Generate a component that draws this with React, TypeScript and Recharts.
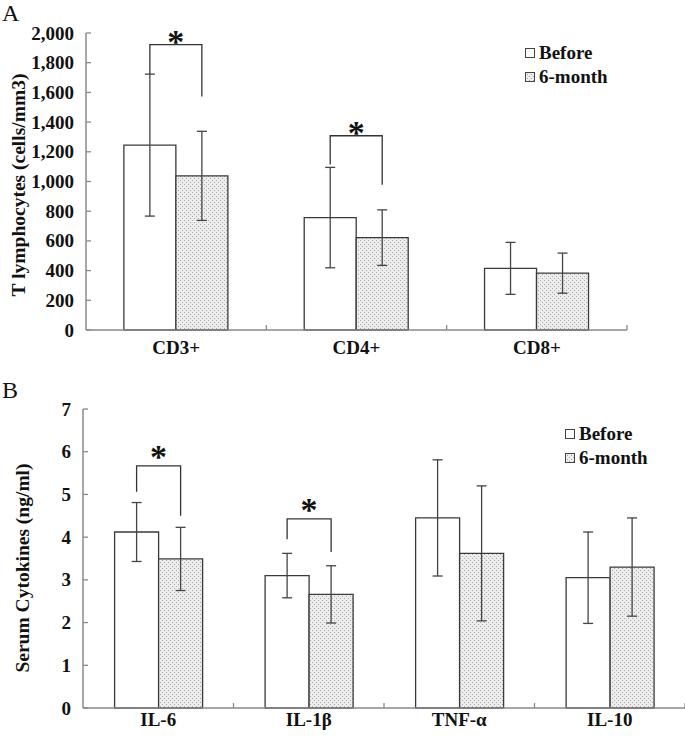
import React from 'react';
import { BarChart, Bar, XAxis, YAxis, ErrorBar, LabelList, Legend } from 'recharts';

// ---------- Panel A data ----------
const categoriesA = ['CD3+', 'CD4+', 'CD8+'];
const beforeA = [1245, 757, 415];
const beforeErrA = [478, 338, 175];
const monthA = [1038, 622, 383];
const monthErrA = [300, 187, 135];
const yTicksA = [0, 200, 400, 600, 800, 1000, 1200, 1400, 1600, 1800, 2000];
const sigCatsA = ['CD3+', 'CD4+'];
const sigTopA = [1922, 1308];
const sigLeftEndA = [1724, 1115];
const sigRightEndA = [1573, 978];

// ---------- Panel B data ----------
const categoriesB = ['IL-6', 'IL-1β', 'TNF-α', 'IL-10'];
const beforeB = [4.12, 3.1, 4.45, 3.05];
const beforeErrB = [0.69, 0.52, 1.36, 1.07];
const monthB = [3.49, 2.66, 3.62, 3.3];
const monthErrB = [0.74, 0.67, 1.58, 1.15];
const yTicksB = [0, 1, 2, 3, 4, 5, 6, 7];
const sigCatsB = ['IL-6', 'IL-1β'];
const sigTopB = [5.67, 4.43];
const sigLeftEndB = [5.06, 3.95];
const sigRightEndB = [4.5, 3.65];

const seriesNames = ['Before', '6-month'];

const FONT = '"Liberation Serif", "Times New Roman", serif';
const AXIS = '#8a8a8a';
const BAR_STROKE = '#3a3a3a';
const FS = 19;

const dataA = categoriesA.map((name, i) => ({
  name,
  before: beforeA[i],
  beforeErr: beforeErrA[i],
  month: monthA[i],
  monthErr: monthErrA[i],
}));

const dataB = categoriesB.map((name, i) => ({
  name,
  before: beforeB[i],
  beforeErr: beforeErrB[i],
  month: monthB[i],
  monthErr: monthErrB[i],
}));

const PatternDefs = ({ id }: { id: string }) => (
  <defs>
    <pattern id={id} width="4" height="4" patternUnits="userSpaceOnUse">
      <rect width="4" height="4" fill="#ededed" />
      <rect x="0" y="0" width="1" height="1" fill="#a8a8a8" />
      <rect x="2" y="2" width="1" height="1" fill="#a8a8a8" />
    </pattern>
  </defs>
);

const makeYTick = (fmt: (v: number) => string) => (props: any) => {
  const { x, y, payload } = props;
  return (
    <g>
      <line x1={x} x2={x + 5} y1={y} y2={y} stroke={AXIS} strokeWidth={1.3} />
      <text
        x={x - 12}
        y={y}
        textAnchor="end"
        dominantBaseline="central"
        fontFamily={FONT}
        fontWeight="bold"
        fontSize={FS}
        fill="#111"
      >
        {fmt(payload.value)}
      </text>
    </g>
  );
};

const makeXTick = (dy: number, n: number) => (props: any) => {
  const { x, y, payload, width } = props;
  const off = payload && payload.offset != null ? payload.offset : width / n / 2;
  return (
    <g>
      <line x1={x + off} x2={x + off} y1={y} y2={y - 5} stroke={AXIS} strokeWidth={1.3} />
      <text
        x={x}
        y={y + dy}
        textAnchor="middle"
        dominantBaseline="central"
        fontFamily={FONT}
        fontWeight="bold"
        fontSize={FS}
        fill="#111"
      >
        {payload.value}
      </text>
    </g>
  );
};

const makeBracket = (
  cats: string[],
  tops: number[],
  lefts: number[],
  rights: number[],
  values: number[],
  allCats: string[],
  starGap: number
) => (props: any) => {
  const vb = props.viewBox || props;
  const x = vb.x;
  const y = vb.y;
  const width = vb.width;
  const height = vb.height;
  const name = props.value;
  const si = cats.indexOf(name);
  if (si < 0) return null;
  const ci = allCats.indexOf(name);
  const val = values[ci];
  const base = y + height;
  const ppu = height / val;
  const py = (v: number) => base - v * ppu;
  const lx = x + width / 2;
  const rx = x + width * 1.5;
  const ty = py(tops[si]);
  const fs = 34;
  return (
    <g>
      <polyline
        points={`${lx},${py(lefts[si])} ${lx},${ty} ${rx},${ty} ${rx},${py(rights[si])}`}
        fill="none"
        stroke="#333"
        strokeWidth={1.3}
      />
      <text
        x={(lx + rx) / 2}
        y={ty - starGap + fs * 0.47}
        textAnchor="middle"
        fontFamily={FONT}
        fontWeight="bold"
        fontSize={fs}
        fill="#111"
      >
        *
      </text>
    </g>
  );
};

const makeLegend = (left: number, top: number, patternId: string) => () => (
  <div style={{ position: 'absolute', left, top, fontFamily: FONT, fontWeight: 'bold', fontSize: FS, color: '#111', lineHeight: '24px' }}>
    {seriesNames.map((s, i) => (
      <div key={s} style={{ display: 'flex', alignItems: 'center', height: 24, whiteSpace: 'nowrap' }}>
        <svg width={10} height={10} style={{ marginRight: 4 }}>
          <rect x={0.5} y={0.5} width={9} height={9} fill={i === 0 ? '#fff' : `url(#${patternId})`} stroke="#444" strokeWidth={1} />
        </svg>
        <span>{s}</span>
      </div>
    ))}
  </div>
);

const YTitle = ({ text, x, cy }: { text: string; x: number; cy: number }) => (
  <text
    x={x}
    y={cy}
    transform={`rotate(-90, ${x}, ${cy})`}
    textAnchor="middle"
    dominantBaseline="central"
    fontFamily={FONT}
    fontWeight="bold"
    fontSize={19.5}
    fill="#111"
  >
    {text}
  </text>
);

export default function App() {
  return (
    <div style={{ position: 'absolute', left: 0, top: 0, width: 685, height: 736, background: '#fff', overflow: 'hidden' }}>
      <div style={{ position: 'absolute', left: 2, top: 1, fontFamily: FONT, fontSize: 24, lineHeight: '24px', color: '#111' }}>A</div>
      <div style={{ position: 'absolute', left: 2, top: 378, fontFamily: FONT, fontSize: 24, lineHeight: '24px', color: '#111' }}>B</div>

      <div style={{ position: 'absolute', left: 0, top: 0 }}>
        <BarChart
          width={685}
          height={370}
          data={dataA}
          margin={{ top: 33, right: 58, bottom: 10, left: 26 }}
          barGap={0}
          barCategoryGap="21%"
        >
          <PatternDefs id="dotsA" />
          <XAxis
            dataKey="name"
            height={30}
            tickSize={0}
            tickMargin={0}
            axisLine={{ stroke: AXIS, strokeWidth: 1.5 }}
            tickLine={false}
            interval={0}
            tick={makeXTick(17, categoriesA.length)}
          />
          <YAxis
            width={60}
            domain={[0, 2000]}
            ticks={yTicksA}
            interval={0}
            tickSize={0}
            tickMargin={0}
            axisLine={{ stroke: AXIS, strokeWidth: 1.5 }}
            tickLine={false}
            tick={makeYTick((v) => v.toLocaleString('en-US'))}
            label={{ content: () => <YTitle text="T lymphocytes (cells/mm3)" x={18} cy={185} /> }}
          />
          <Legend layout="horizontal" verticalAlign="middle" align="center" content={makeLegend(525, 41, 'dotsA')} wrapperStyle={{ position: 'absolute', left: 0, top: 0, width: 0, height: 0 }} />
          <Bar dataKey="before" name={seriesNames[0]} fill="#fff" stroke={BAR_STROKE} strokeWidth={1.3} isAnimationActive={false}>
            <ErrorBar dataKey="beforeErr" width={5} stroke="#444" strokeWidth={1.3} />
            <LabelList
              dataKey="name"
              content={makeBracket(sigCatsA, sigTopA, sigLeftEndA, sigRightEndA, beforeA, categoriesA, 8)}
            />
          </Bar>
          <Bar dataKey="month" name={seriesNames[1]} fill="url(#dotsA)" stroke={BAR_STROKE} strokeWidth={1.3} isAnimationActive={false}>
            <ErrorBar dataKey="monthErr" width={5} stroke="#444" strokeWidth={1.3} />
          </Bar>
        </BarChart>
      </div>

      <div style={{ position: 'absolute', left: 0, top: 370 }}>
        <BarChart
          width={685}
          height={366}
          data={dataB}
          margin={{ top: 39, right: 0, bottom: 0, left: 23 }}
          barGap={0}
          barCategoryGap="21%"
        >
          <PatternDefs id="dotsB" />
          <XAxis
            dataKey="name"
            height={28}
            tickSize={0}
            tickMargin={0}
            axisLine={{ stroke: AXIS, strokeWidth: 1.5 }}
            tickLine={false}
            interval={0}
            tick={makeXTick(11, categoriesB.length)}
          />
          <YAxis
            width={60}
            domain={[0, 7]}
            ticks={yTicksB}
            interval={0}
            tickSize={0}
            tickMargin={0}
            axisLine={{ stroke: AXIS, strokeWidth: 1.5 }}
            tickLine={false}
            tick={makeYTick((v) => String(v))}
            label={{ content: () => <YTitle text="Serum Cytokines (ng/ml)" x={22} cy={198} /> }}
          />
          <Legend layout="horizontal" verticalAlign="middle" align="center" content={makeLegend(565, 52, 'dotsB')} wrapperStyle={{ position: 'absolute', left: 0, top: 0, width: 0, height: 0 }} />
          <Bar dataKey="before" name={seriesNames[0]} fill="#fff" stroke={BAR_STROKE} strokeWidth={1.3} isAnimationActive={false}>
            <ErrorBar dataKey="beforeErr" width={5} stroke="#444" strokeWidth={1.3} />
            <LabelList
              dataKey="name"
              content={makeBracket(sigCatsB, sigTopB, sigLeftEndB, sigRightEndB, beforeB, categoriesB, 14)}
            />
          </Bar>
          <Bar dataKey="month" name={seriesNames[1]} fill="url(#dotsB)" stroke={BAR_STROKE} strokeWidth={1.3} isAnimationActive={false}>
            <ErrorBar dataKey="monthErr" width={5} stroke="#444" strokeWidth={1.3} />
          </Bar>
        </BarChart>
      </div>
    </div>
  );
}
